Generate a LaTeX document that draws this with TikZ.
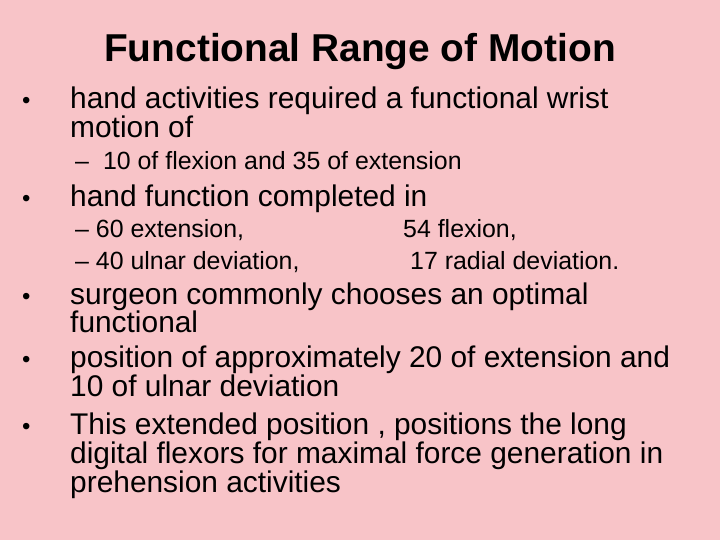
\documentclass[tikz,border=0pt]{standalone}
\usepackage{fontspec}
\setmainfont{Liberation Sans}
\definecolor{slidepink}{RGB}{248,196,200}
\definecolor{slidegreen}{RGB}{150,250,206}
\tikzset{
  line/.style={anchor=base west, inner sep=0, font=\fontsize{30}{30}\selectfont},
  subline/.style={anchor=base west, inner sep=0, font=\fontsize{25}{25}\selectfont},
  bulletmark/.style={anchor=base west, inner sep=0, font=\fontsize{24}{24}\selectfont}
}
\begin{document}
\begin{tikzpicture}[x=1bp, y=-1bp]
  % background
  \begin{scope}[x=1bp, y=1bp]
    \clip (0,-540) rectangle (720,0);
    \shade[top color=slidepink, middle color=slidegreen, bottom color=slidepink, rotate around={45:(360,-270)}]
      (-150,-760) rectangle (870,220);
  \end{scope}
  \useasboundingbox (0,0) rectangle (720,540);

  \node[anchor=base, inner sep=0, font=\bfseries\fontsize{39}{39}\selectfont] (title) at (360,62) {Functional Range of Motion};

  \node[bulletmark] (b1) at (22,109) {•};
  \node[line] (l1a) at (70,109) {hand activities required a functional wrist};
  \node[line] (l1b) at (70,138) {motion of};
  \node[subline] (s1) at (75,170) {–\hspace{14bp}10 of flexion and 35 of extension};

  \node[bulletmark] (b2) at (22,207) {•};
  \node[line] (l2) at (70,207) {hand function completed in};
  \node[subline] (s2a) at (75,238) {– 60 extension,};
  \node[subline] (s2b) at (403,238) {54 flexion,};
  \node[subline] (s3a) at (75,270) {– 40 ulnar deviation,};
  \node[subline] (s3b) at (410,270) {17 radial deviation.};

  \node[bulletmark] (b3) at (22,304) {•};
  \node[line] (l3a) at (70,304) {surgeon commonly chooses an optimal};
  \node[line] (l3b) at (70,332) {functional};
  \node[bulletmark] (b4) at (22,367) {•};
  \node[line] (l4a) at (70,367) {position of approximately 20 of extension and};
  \node[line] (l4b) at (70,396) {10 of ulnar deviation};
  \node[bulletmark] (b5) at (22,434) {•};
  \node[line] (l5a) at (70,434) {This extended position , positions the long};
  \node[line] (l5b) at (70,463) {digital flexors for maximal force generation in};
  \node[line] (l5c) at (70,492) {prehension activities};
\end{tikzpicture}
\end{document}
